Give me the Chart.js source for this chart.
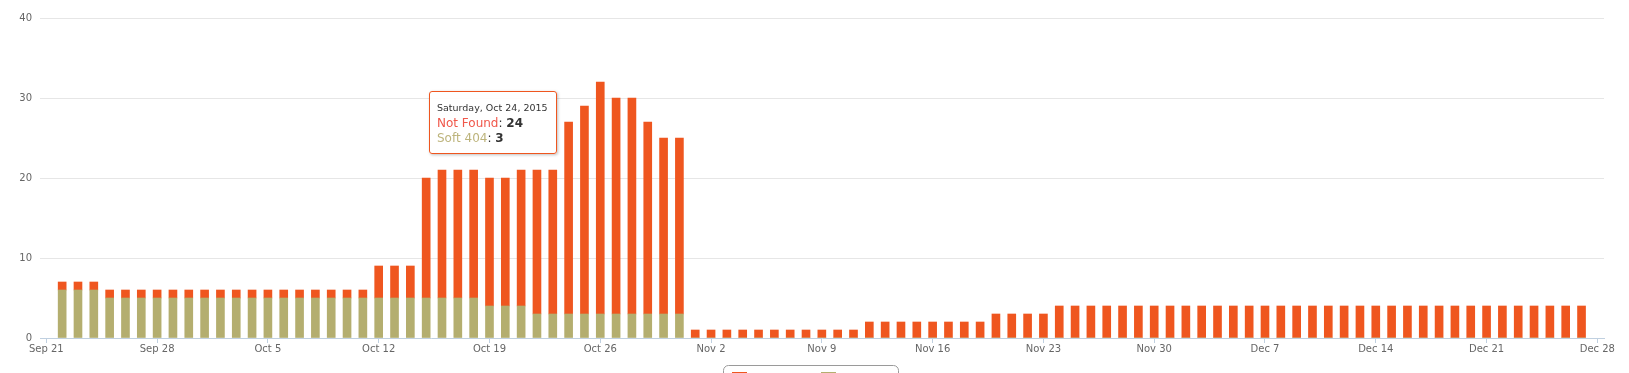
<!DOCTYPE html>
<html>
<head>
<meta charset="utf-8">
<script src="https://cdn.jsdelivr.net/npm/chart.js@4.4.0/dist/chart.umd.min.js"></script>
<style>
  html, body { margin: 0; padding: 0; background: #fff; overflow: hidden; }
  #wrap { position: relative; width: 1629px; height: 373px; }
  canvas { display: block; }
  #tip {
    position: absolute; box-sizing: border-box;
    background: rgba(255,255,255,0.9);
    border: 1px solid #EF561F; border-radius: 3px;
    padding: 10px 8px 7px 7px;
    box-shadow: 1px 1px 3px rgba(0,0,0,0.25);
    font-family: "DejaVu Sans", Verdana, sans-serif;
    color: #333; white-space: nowrap;
  }
  #tip .hd { font-size: 9.5px; line-height: 12px; }
  #tip .ln { font-size: 12px; line-height: 15px; }
  #tip .ln1 { margin-top: 2px; }
  #tip b { color: #333; }
</style>
</head>
<body>
<div id="wrap"><canvas id="c" width="1629" height="373"></canvas><div id="tip"></div></div>
<script>
// ---- data ----
const seriesNames = ['Not Found', 'Soft 404'];
const seriesColors = ['#EF561F', '#B4AE6F'];
const startDate = '2015-09-21';
const categories = [
  '2015-09-22','2015-09-23','2015-09-24','2015-09-25','2015-09-26','2015-09-27','2015-09-28','2015-09-29','2015-09-30',
  '2015-10-01','2015-10-02','2015-10-03','2015-10-04','2015-10-05','2015-10-06','2015-10-07','2015-10-08','2015-10-09','2015-10-10',
  '2015-10-11','2015-10-12','2015-10-13','2015-10-14','2015-10-15','2015-10-16','2015-10-17','2015-10-18','2015-10-19','2015-10-20',
  '2015-10-21','2015-10-22','2015-10-23','2015-10-24','2015-10-25','2015-10-26','2015-10-27','2015-10-28','2015-10-29','2015-10-30','2015-10-31',
  '2015-11-01','2015-11-02','2015-11-03','2015-11-04','2015-11-05','2015-11-06','2015-11-07','2015-11-08','2015-11-09','2015-11-10',
  '2015-11-11','2015-11-12','2015-11-13','2015-11-14','2015-11-15','2015-11-16','2015-11-17','2015-11-18','2015-11-19','2015-11-20',
  '2015-11-21','2015-11-22','2015-11-23','2015-11-24','2015-11-25','2015-11-26','2015-11-27','2015-11-28','2015-11-29','2015-11-30',
  '2015-12-01','2015-12-02','2015-12-03','2015-12-04','2015-12-05','2015-12-06','2015-12-07','2015-12-08','2015-12-09','2015-12-10',
  '2015-12-11','2015-12-12','2015-12-13','2015-12-14','2015-12-15','2015-12-16','2015-12-17','2015-12-18','2015-12-19','2015-12-20',
  '2015-12-21','2015-12-22','2015-12-23','2015-12-24','2015-12-25','2015-12-26','2015-12-27'
];
const notFound = [
  1,1,1,1,1,1,1,1,1,
  1,1,1,1,1,1,1,1,1,1,
  1,4,4,4,15,16,16,16,16,16,
  17,18,18,24,26,29,27,27,24,22,22,
  1,1,1,1,1,1,1,1,1,1,
  1,2,2,2,2,2,2,2,2,3,
  3,3,3,4,4,4,4,4,4,4,
  4,4,4,4,4,4,4,4,4,4,
  4,4,4,4,4,4,4,4,4,4,
  4,4,4,4,4,4,4
];
const soft404 = [
  6,6,6,5,5,5,5,5,5,
  5,5,5,5,5,5,5,5,5,5,
  5,5,5,5,5,5,5,5,4,4,
  4,3,3,3,3,3,3,3,3,3,3,
  0,0,0,0,0,0,0,0,0,0,
  0,0,0,0,0,0,0,0,0,0,
  0,0,0,0,0,0,0,0,0,0,
  0,0,0,0,0,0,0,0,0,0,
  0,0,0,0,0,0,0,0,0,0,
  0,0,0,0,0,0,0
];
const tickDates = ['2015-09-21','2015-09-28','2015-10-05','2015-10-12','2015-10-19','2015-10-26','2015-11-02',
  '2015-11-09','2015-11-16','2015-11-23','2015-11-30','2015-12-07','2015-12-14','2015-12-21','2015-12-28'];
const tickLabels = ['Sep 21','Sep 28','Oct 5','Oct 12','Oct 19','Oct 26','Nov 2','Nov 9','Nov 16','Nov 23','Nov 30','Dec 7','Dec 14','Dec 21','Dec 28'];
const yTicks = [0, 10, 20, 30, 40];
const tooltipDate = '2015-10-24';
const tooltipHeader = 'Saturday, Oct 24, 2015';

// ---- helpers ----
function dayOf(iso) {
  const p = iso.split('-').map(Number), s = startDate.split('-').map(Number);
  return Math.round((Date.UTC(p[0], p[1]-1, p[2]) - Date.UTC(s[0], s[1]-1, s[2])) / 86400000);
}
const xs = categories.map(dayOf);
const tickPos = tickDates.map(dayOf);
const FONT = '"DejaVu Sans", Verdana, sans-serif';

const legendPlugin = {
  id: 'boxLegend',
  afterDraw(chart) {
    const ctx = chart.ctx;
    ctx.save();
    const bx = 723.5, by = 365.5, bw = 175, bh = 30, r = 5;
    ctx.strokeStyle = '#9A9A9A'; ctx.lineWidth = 1;
    ctx.beginPath();
    ctx.moveTo(bx + r, by); ctx.lineTo(bx + bw - r, by); ctx.arcTo(bx + bw, by, bx + bw, by + r, r);
    ctx.lineTo(bx + bw, by + bh); ctx.moveTo(bx, by + bh); ctx.lineTo(bx, by + r); ctx.arcTo(bx, by, bx + r, by, r);
    ctx.stroke();
    const items = [[732, 0], [821, 1]];
    ctx.font = '12px ' + FONT; ctx.textBaseline = 'alphabetic';
    items.forEach(([x, i]) => {
      ctx.fillStyle = seriesColors[i];
      ctx.fillRect(x, 372, 15, 12);
      ctx.fillStyle = '#333';
      ctx.fillText(seriesNames[i], x + 20, 390);
    });
    ctx.restore();
  }
};

const chart = new Chart(document.getElementById('c'), {
  type: 'bar',
  data: {
    datasets: [
      { label: seriesNames[1], data: xs.map((x, i) => ({ x, y: soft404[i] })), backgroundColor: seriesColors[1], barThickness: 8 },
      { label: seriesNames[0], data: xs.map((x, i) => ({ x, y: notFound[i] })), backgroundColor: seriesColors[0], barThickness: 8 }
    ]
  },
  options: {
    responsive: false,
    animation: false,
    events: [],
    layout: { padding: { top: 18, right: 25, left: 0, bottom: 0 } },
    plugins: { legend: { display: false }, tooltip: { enabled: false } },
    scales: {
      x: {
        type: 'linear', stacked: true, min: -0.4, max: 98.42, offset: false,
        afterBuildTicks: s => { s.ticks = tickPos.map(v => ({ value: v })); },
        afterFit: s => { s.height = 35; },
        grid: { offset: false, drawOnChartArea: false, drawTicks: true, tickLength: 5, color: '#C0D0E0' },
        border: { display: true, color: '#C0D0E0', width: 1 },
        ticks: {
          autoSkip: false, maxRotation: 0, padding: 0, color: '#666',
          font: { family: FONT, size: 10 },
          callback: v => { const k = tickPos.indexOf(v); return k >= 0 ? tickLabels[k] : ''; }
        }
      },
      y: {
        stacked: true, min: 0, max: 40,
        afterBuildTicks: s => { s.ticks = yTicks.map(v => ({ value: v })); },
        afterFit: s => { s.width = 40; },
        grid: { drawTicks: false, color: c => (c.tick && c.tick.value === 0) ? 'rgba(0,0,0,0)' : '#E6E6E6' },
        border: { display: false },
        ticks: { padding: 8, color: '#666', font: { family: FONT, size: 10 } }
      }
    }
  },
  plugins: [legendPlugin]
});

// ---- tooltip annotation for the highlighted day ----
(function () {
  const k = categories.indexOf(tooltipDate);
  const tip = document.getElementById('tip');
  tip.innerHTML =
    '<div class="hd">' + tooltipHeader + '</div>' +
    '<div class="ln ln1"><span style="color:#F0574A">' + seriesNames[0] + '</span>: <b>' + notFound[k] + '</b></div>' +
    '<div class="ln"><span style="color:#BDB47C">' + seriesNames[1] + '</span>: <b>' + soft404[k] + '</b></div>';
  const px = chart.scales.x.getPixelForValue(xs[k]);
  const py = chart.scales.y.getPixelForValue(notFound[k] + soft404[k]);
  tip.style.left = Math.round(px - 12 - tip.offsetWidth) + 'px';
  tip.style.top = Math.round(py - 31) + 'px';
})();
</script>
</body>
</html>
